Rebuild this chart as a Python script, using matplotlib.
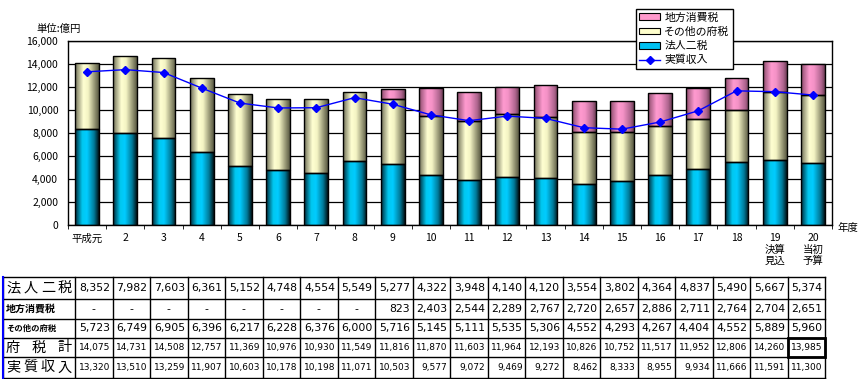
import numpy as np
import matplotlib
matplotlib.use('Agg')
import matplotlib.pyplot as plt
from matplotlib.colors import LinearSegmentedColormap
from matplotlib.patches import Patch, Rectangle
from matplotlib.lines import Line2D

plt.rcParams['font.family'] = ['Noto Sans CJK JP', 'DejaVu Sans']

# ---- data (単位:億円) ----
years = ['平成元', '2', '3', '4', '5', '6', '7', '8', '9', '10',
         '11', '12', '13', '14', '15', '16', '17', '18',
         '19\n決算\n見込', '20\n当初\n予算']
houjin = [8352, 7982, 7603, 6361, 5152, 4748, 4554, 5549, 5277, 4322,
          3948, 4140, 4120, 3554, 3802, 4364, 4837, 5490, 5667, 5374]
chihou = [None, None, None, None, None, None, None, None, 823, 2403,
          2544, 2289, 2767, 2720, 2657, 2886, 2711, 2764, 2704, 2651]
sonota = [5723, 6749, 6905, 6396, 6217, 6228, 6376, 6000, 5716, 5145,
          5111, 5535, 5306, 4552, 4293, 4267, 4404, 4552, 5889, 5960]
futotal = [14075, 14731, 14508, 12757, 11369, 10976, 10930, 11549, 11816, 11870,
           11603, 11964, 12193, 10826, 10752, 11517, 11952, 12806, 14260, 13985]
jisshitsu = [13320, 13510, 13259, 11907, 10603, 10178, 10198, 11071, 10503, 9577,
             9072, 9469, 9272, 8462, 8333, 8955, 9934, 11666, 11591, 11300]

W, H = 863, 379
fig = plt.figure(figsize=(W / 100, H / 100), dpi=100)

# 円柱っぽいグラデーション
cm_teal = LinearSegmentedColormap.from_list('teal', [
    (0.0, '#002a3a'), (0.3, '#00c8f0'), (0.5, '#00ccff'), (0.8, '#007a99'), (1.0, '#001418')])
cm_khaki = LinearSegmentedColormap.from_list('khaki', [
    (0.0, '#707058'), (0.35, '#ffffd2'), (0.55, '#f4f4c4'), (0.85, '#8c8c6c'), (1.0, '#5a5a44')])
cm_pink = LinearSegmentedColormap.from_list('pink', [
    (0.0, '#8c4c6c'), (0.35, '#ff9ad0'), (0.55, '#f492c6'), (0.85, '#b06690'), (1.0, '#704058')])


def grad_bars(ax, bars, cmap):
    g = np.linspace(0, 1, 80).reshape(1, -1)
    for b in bars:
        if b.get_height() <= 0:
            continue
        x0, y0 = b.get_x(), b.get_y()
        im = ax.imshow(g, cmap=cmap, aspect='auto', interpolation='bilinear',
                       extent=(x0, x0 + b.get_width(), y0, y0 + b.get_height()), zorder=2)
        im.set_clip_path(b)


ax = fig.add_axes([68 / W, 1 - 225 / H, (832 - 68) / W, (225 - 41) / H])
x = np.arange(len(years))
chihou_v = np.array([0 if v is None else v for v in chihou])
houjin_v = np.array(houjin)
sonota_v = np.array(sonota)

bw = 0.62
b1 = ax.bar(x, houjin_v, bw, facecolor='none', edgecolor='black', lw=1, zorder=3)
b2 = ax.bar(x, sonota_v, bw, bottom=houjin_v, facecolor='none', edgecolor='black', lw=1, zorder=3)
b3 = ax.bar(x, chihou_v, bw, bottom=houjin_v + sonota_v, facecolor='none',
            edgecolor='black', lw=1, zorder=3)
grad_bars(ax, b1, cm_teal)
grad_bars(ax, b2, cm_khaki)
grad_bars(ax, b3, cm_pink)
for b in b3:
    if b.get_height() <= 0:
        b.set_visible(False)

ax.plot(x, jisshitsu, color='#0000ff', lw=1, marker='D', ms=4, zorder=5)

ax.set_xlim(-0.5, len(years) - 0.5)
ax.set_ylim(0, 16000)
ax.set_yticks(np.arange(0, 16001, 2000))
ax.set_yticklabels([f'{v:,}' for v in range(0, 16001, 2000)], fontsize=7.5)
ax.yaxis.grid(True, color='black', lw=0.9)
ax.set_axisbelow(True)
ax.tick_params(axis='y', length=0, pad=7)
ax.set_xticks(x)
ax.set_xticklabels(years, fontsize=7.5, linespacing=1.15, va='top')
ax.set_xticks(np.arange(-0.5, len(years), 1), minor=True)
ax.tick_params(axis='x', which='major', length=0, pad=6)
ax.tick_params(axis='x', which='minor', length=3, direction='out')
for s in ax.spines.values():
    s.set_color('black')
    s.set_linewidth(1)

fig.text(848 / W, 1 - 228 / H, '年度', fontsize=7.5, ha='center', va='center')
fig.text(36 / W, 1 - 29 / H, '単位:億円', fontsize=7.5, ha='left', va='center')

handles = [Patch(facecolor='#ff99cc', edgecolor='black', lw=0.8),
           Patch(facecolor='#ffffcc', edgecolor='black', lw=0.8),
           Patch(facecolor='#00c0f0', edgecolor='black', lw=0.8),
           Line2D([], [], color='#0000ff', lw=1, marker='D', ms=4)]
labels = ['地方消費税', 'その他の府税', '法人二税', '実質収入']
leg = fig.legend(handles, labels, loc='upper left', bbox_to_anchor=(636 / W, 1 - 9 / H),
                 fontsize=7.8, frameon=True, fancybox=False, framealpha=1,
                 handlelength=1.9, handleheight=0.6, handletextpad=0.4,
                 labelspacing=0.38, borderpad=0.3, borderaxespad=0)
leg.get_frame().set_edgecolor('black')
leg.get_frame().set_linewidth(1)

# ---- 表 ----
tax = fig.add_axes([0, 0, 1, 1])
tax.set_xlim(0, W)
tax.set_ylim(H, 0)
tax.axis('off')

col_edges = [3, 75] + [75 + 37.5 * i for i in range(1, 21)]
row_edges = [277, 299, 319, 338, 357, 378]
for yy in row_edges:
    tax.plot([col_edges[0], col_edges[-1]], [yy, yy], color='black', lw=1)
for xx in col_edges:
    tax.plot([xx, xx], [row_edges[0], row_edges[-1]], color='black', lw=1)
tax.plot([3, 3], [row_edges[0], row_edges[-1]], color='#0000ff', lw=1.5)
tax.add_patch(Rectangle((col_edges[-2], row_edges[3]), 37.5, row_edges[4] - row_edges[3],
                        fill=False, edgecolor='black', lw=2))

# 行見出し: 文字ごとの位置 (均等割付)
spread4 = [13, 30.5, 48, 65]
spread3 = [13, 39, 65]
row_heads = [('法人二税', spread4, 10.2), ('地方消費税', None, 7.2),
             ('その他の府税', None, 6.0), ('府税計', spread3, 10.2),
             ('実質収入', spread4, 10.2)]
rows = [houjin, chihou, sonota, futotal, jisshitsu]
num_fs = [7.8, 7.8, 7.8, 6.5, 6.5]
for r, (lab, pos, fs) in enumerate(row_heads):
    yc = (row_edges[r] + row_edges[r + 1]) / 2
    if pos is None:
        tax.text(6, yc, lab, fontsize=fs, fontweight='bold', ha='left', va='center')
    else:
        for ch, px in zip(lab, pos):
            tax.text(px, yc, ch, fontsize=fs, ha='center', va='center')
    for c, v in enumerate(rows[r]):
        xl, xr = col_edges[c + 1], col_edges[c + 2]
        if v is None:
            tax.text((xl + xr) / 2, yc, '-', fontsize=num_fs[r], ha='center', va='center',
                     family='DejaVu Sans')
        else:
            tax.text(xr - 2.5, yc, f'{v:,}', fontsize=num_fs[r], ha='right', va='center',
                     family='DejaVu Sans')

fig.savefig('out.png', dpi=100)
